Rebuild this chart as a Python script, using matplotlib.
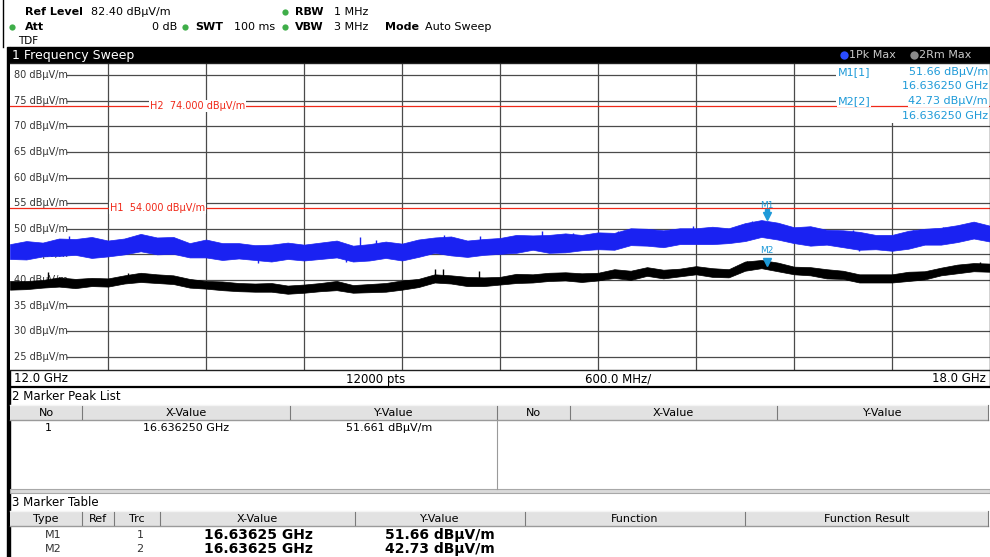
import matplotlib
matplotlib.use('Agg')
import matplotlib.pyplot as plt
from matplotlib.patches import Rectangle
from matplotlib.transforms import offset_copy

W, H = 990, 557

# sweep samples (GHz)
freq_ghz = [12.0, 12.1, 12.2, 12.3, 12.4, 12.5, 12.6, 12.7, 12.8, 12.9,
            13.0, 13.1, 13.2, 13.3, 13.4, 13.5, 13.6, 13.7, 13.8, 13.9,
            14.0, 14.1, 14.2, 14.3, 14.4, 14.5, 14.6, 14.7, 14.8, 14.9,
            15.0, 15.1, 15.2, 15.3, 15.4, 15.5, 15.6, 15.7, 15.8, 15.9,
            16.0, 16.1, 16.2, 16.3, 16.4, 16.5, 16.6, 16.7, 16.8, 16.9,
            17.0, 17.1, 17.2, 17.3, 17.4, 17.5, 17.6, 17.7, 17.8, 17.9, 18.0]

# trace 1 (1Pk Max) upper / lower edge of the noise band, dBuV/m
pk_top = [47.0, 47.6, 47.3, 48.1, 48.0, 48.4, 47.7, 48.1, 49.0, 48.3,
          48.4, 47.2, 47.9, 47.2, 47.2, 46.8, 46.9, 47.3, 46.9, 47.3,
          47.7, 46.7, 47.0, 47.5, 47.1, 47.9, 48.3, 48.5, 47.7, 48.0,
          48.2, 48.8, 48.7, 48.8, 49.1, 48.8, 49.3, 49.2, 50.1, 50.0,
          49.7, 50.1, 50.1, 50.4, 50.1, 51.1, 51.7, 51.2, 50.3, 50.5,
          49.8, 49.7, 49.4, 48.8, 48.8, 49.6, 50.0, 50.2, 50.7, 51.4, 50.6]
pk_bot = [44.1, 44.0, 44.6, 44.7, 44.9, 44.3, 44.6, 45.0, 45.6, 45.0,
          45.1, 44.4, 44.4, 43.9, 44.2, 43.9, 43.6, 44.1, 43.8, 44.1,
          44.4, 43.6, 43.8, 44.3, 43.8, 44.5, 45.3, 44.8, 44.5, 44.9,
          45.1, 45.3, 45.9, 45.3, 45.4, 45.8, 46.0, 45.9, 46.8, 46.7,
          46.4, 47.0, 47.0, 47.0, 47.2, 47.6, 48.4, 47.9, 47.2, 46.7,
          46.9, 46.4, 45.9, 46.0, 45.7, 46.1, 46.9, 46.9, 47.4, 48.1, 47.5]

# trace 2 (2Rm Max)
rm_top = [39.8, 39.8, 40.0, 40.5, 40.2, 40.4, 40.3, 40.9, 41.4, 41.1,
          40.9, 40.2, 39.8, 39.7, 39.4, 39.3, 39.4, 38.9, 39.1, 39.4,
          39.8, 39.0, 39.2, 39.4, 39.9, 40.2, 41.1, 40.9, 40.6, 40.5,
          40.6, 41.2, 41.1, 41.4, 41.5, 41.3, 41.4, 42.1, 41.8, 42.5,
          42.0, 42.2, 42.7, 42.3, 42.1, 43.6, 43.9, 43.4, 42.6, 42.5,
          42.1, 41.8, 41.1, 41.1, 41.1, 41.6, 41.7, 42.4, 43.0, 43.3, 43.2]
rm_bot = [38.1, 38.2, 38.5, 38.7, 38.4, 38.8, 38.7, 39.3, 39.6, 39.4,
          39.2, 38.5, 38.3, 38.0, 37.8, 37.7, 37.7, 37.3, 37.5, 37.8,
          38.0, 37.5, 37.6, 37.7, 38.1, 38.6, 39.5, 39.3, 38.8, 38.8,
          39.1, 39.4, 39.5, 39.8, 39.9, 39.6, 39.9, 40.4, 40.0, 40.8,
          40.3, 40.7, 41.1, 40.6, 40.5, 41.8, 42.3, 41.7, 41.1, 40.9,
          40.3, 40.2, 39.5, 39.5, 39.5, 39.8, 40.1, 40.9, 41.3, 41.7, 41.6]

# single noise spikes that stand out of the bands (GHz, dBuV/m)
pk_spike_f = [12.18, 12.36, 12.78, 12.94, 13.05, 13.9, 14.14, 14.24, 14.66, 14.88,
              15.26, 15.45, 15.72, 15.88, 16.18, 16.54, 16.70, 17.16, 17.53, 17.71, 17.93,
              13.52, 14.06, 17.20, 17.37]
pk_spike_v = [47.0, 48.5, 48.4, 47.8, 46.8, 46.8, 48.3, 47.8, 48.7, 48.5,
              49.5, 49.2, 49.6, 50.0, 50.6, 51.6, 50.8, 49.7, 49.7, 50.3, 51.0,
              43.4, 43.6, 45.6, 45.9]
rm_spike_f = [12.23, 12.72, 14.60, 14.65, 14.87, 16.51, 17.94]
rm_spike_v = [41.6, 41.4, 42.2, 42.1, 41.8, 43.8, 43.5]

y_ticks = [80, 75, 70, 65, 60, 55, 50, 45, 40, 35, 30, 25]
x_grid = [12.6, 13.2, 13.8, 14.4, 15.0, 15.6, 16.2, 16.8, 17.4]

limit_lines = [('H1', 54.0), ('H2', 74.0)]
markers = [('M1', 16.63625, 51.66), ('M2', 16.63625, 42.73)]

BLUE = '#1a22f2'
MARKER_BLUE = '#1e9ad8'
RED = '#f02818'
GREEN = '#3fae49'
GRID = '#4a4a4a'

plt.rcParams['font.family'] = 'DejaVu Sans'

fig = plt.figure(figsize=(W / 100, H / 100), dpi=100)
fig.patch.set_facecolor('white')

# pixel canvas for the instrument chrome
bg = fig.add_axes((0, 0, 1, 1), zorder=0)
bg.set_xlim(0, W)
bg.set_ylim(H, 0)
bg.axis('off')


def txt(x, y, s, size=8, ha='left', weight='normal', color='black'):
    bg.text(x, y, s, fontsize=size, ha=ha, va='center', weight=weight, color=color)


def dot(x, y, color=GREEN, ms=4.5):
    bg.plot(x, y, 'o', color=color, ms=ms, mec='none')


# header
bg.plot([3, 3], [0, 47], color='black', lw=1)
txt(25, 12, 'Ref Level', weight='bold')
txt(91, 12, '82.40 dB\u00b5V/m')
dot(285, 12)
txt(295, 12, 'RBW', weight='bold')
txt(334, 12, '1 MHz')
dot(12, 27)
txt(25, 27, 'Att', weight='bold')
txt(177, 27, '0 dB', ha='right')
dot(185, 27)
txt(195, 27, 'SWT', weight='bold')
txt(234, 27, '100 ms')
dot(285, 27)
txt(295, 27, 'VBW', weight='bold')
txt(334, 27, '3 MHz')
txt(385, 27, 'Mode', weight='bold')
txt(425, 27, 'Auto Sweep')
txt(18, 41, 'TDF', size=7.5)

# title bar
bg.add_patch(Rectangle((10, 47), 980, 16, color='black'))
txt(12, 55, '1 Frequency Sweep', size=9, color='white')
dot(844, 55, '#2a4cff', 6)
txt(849, 55, '1Pk Max', color='#c8c8c8')
dot(914, 55, '#8a8a8a', 6)
txt(919, 55, '2Rm Max', color='#c8c8c8')

# left border of the screen
bg.add_patch(Rectangle((7, 47), 3, H - 47, color='black'))

# frequency bar under the diagram
bg.plot([10, 990], [386.5, 386.5], color='black', lw=1.6)
bg.plot([989.5, 989.5], [370, 387], color='black', lw=1)
txt(14, 379, '12.0 GHz', size=8.5)
txt(376, 379, '12000 pts', size=8.5, ha='center')
txt(618, 379, '600.0 MHz/', size=8.5, ha='center')
txt(986, 379, '18.0 GHz', size=8.5, ha='right')


def header_row(y, cols, labels):
    bg.add_patch(Rectangle((10, y), 978, 15, facecolor='#e2e2e2', edgecolor='none'))
    bg.plot([10, 988], [y + 15, y + 15], color='#9a9a9a', lw=1)
    bg.plot([10, 988], [y, y], color='#f4f4f4', lw=1)
    for cx in cols[1:-1]:
        bg.plot([cx, cx], [y + 1, y + 14], color='#7a7a7a', lw=0.8)
    bg.plot([988, 988], [y, y + 15], color='#7a7a7a', lw=0.8)
    for (a, b), lab in zip(zip(cols[:-1], cols[1:]), labels):
        txt((a + b) / 2, y + 8, lab, ha='center')


# 2 marker peak list
txt(12, 397, '2 Marker Peak List', size=8.5)
peak_cols = [10, 82, 290, 497, 570, 777, 988]
header_row(405, peak_cols, ['No', 'X-Value', 'Y-Value', 'No', 'X-Value', 'Y-Value'])
bg.plot([497, 497], [420, 489], color='#9a9a9a', lw=0.8)
txt(45, 428, '1')
txt(186, 428, '16.636250 GHz', ha='center')
txt(389, 428, '51.661 dB\u00b5V/m', ha='center')
bg.add_patch(Rectangle((10, 489), 980, 4, facecolor='#dadada', edgecolor='#a8a8a8', lw=0.8))

# 3 marker table
txt(12, 503, '3 Marker Table', size=8.5)
tab_cols = [10, 82, 114, 160, 355, 525, 745, 988]
header_row(511, tab_cols, ['Type', 'Ref', 'Trc', 'X-Value', 'Y-Value', 'Function', 'Function Result'])
for i, (name, f, lvl) in enumerate(markers):
    yy = 535 + 14 * i
    txt(45, yy, name, color='#333333')
    txt(140, yy, str(i + 1), ha='center', color='#333333')
    txt(258, yy, f'{f:.5f} GHz', size=10, ha='center', weight='bold')
    txt(440, yy, f'{lvl:.2f} dB\u00b5V/m', size=10, ha='center', weight='bold')

# diagram
ax = fig.add_axes((10 / W, 1 - 370 / H, 980 / W, 307 / H), zorder=1)
ax.set_facecolor('white')
ax.set_xlim(12.0, 18.0)
ax.set_ylim(22.4, 82.4)
ax.set_xticks([])
ax.set_yticks([])
for side in ('top', 'bottom', 'right'):
    ax.spines[side].set_color('#202020')
    ax.spines[side].set_linewidth(1)
ax.spines['left'].set_visible(False)

for gx in x_grid:
    ax.axvline(gx, color=GRID, lw=0.9, zorder=1)
for gy in y_ticks:
    ax.axhline(gy, xmin=57 / 980, xmax=1, color=GRID, lw=0.9, zorder=1)
    ax.text(0.004, gy, f'{gy} dB\u00b5V/m', transform=ax.get_yaxis_transform(),
            fontsize=7, va='center', ha='left', color='#333333', zorder=1.5)

# white area behind the marker readout
ax.add_patch(Rectangle((826 / 980, (370 - 123) / 307), 154 / 980, 60 / 307,
                       transform=ax.transAxes, facecolor='white', edgecolor='none', zorder=2))

label_x = {'H1': 100 / 980, 'H2': 140 / 980}
for name, lvl in limit_lines:
    ax.axhline(lvl, color=RED, lw=0.9, zorder=2.5)
    ax.text(label_x[name], lvl, f'{name}  {lvl:.3f} dB\u00b5V/m', transform=ax.get_yaxis_transform(),
            fontsize=7, color=RED, va='center', ha='left', zorder=4,
            bbox=dict(facecolor='white', edgecolor='none', pad=0.6))

# traces: noise band plus the single spikes
for f_top, f_bot, sf, sv, col in ((rm_top, rm_bot, rm_spike_f, rm_spike_v, 'black'),
                                  (pk_top, pk_bot, pk_spike_f, pk_spike_v, BLUE)):
    ax.fill_between(freq_ghz, f_bot, f_top, facecolor=col, edgecolor=col, lw=0.5, zorder=3)
    base = []
    for f in sf:
        k = min(range(len(freq_ghz)), key=lambda j: abs(freq_ghz[j] - f))
        base.append((f_top[k] + f_bot[k]) / 2)
    ax.vlines(sf, base, sv, color=col, lw=1.0, zorder=3)

# markers (M1 is the active one: triangle with a stem)
tri = offset_copy(ax.transData, fig=fig, y=4, units='dots')
stem = offset_copy(ax.transData, fig=fig, y=9, units='dots')
lab = offset_copy(ax.transData, fig=fig, y=15, units='dots')
for i, (name, f, lvl) in enumerate(markers):
    ax.plot(f, lvl, marker='v', color=MARKER_BLUE, ms=6, transform=tri, zorder=5, clip_on=False)
    if i == 0:
        ax.plot(f, lvl, marker='s', color=MARKER_BLUE, ms=3.5, transform=stem, zorder=5)
    ax.text(f, lvl, name, transform=lab, color=MARKER_BLUE, fontsize=6.5,
            ha='center', va='center', zorder=5)

# marker readout (top right)
readout_y = [(72, 86), (101, 116)]
tb = dict(facecolor='white', edgecolor='none', pad=0.5)
for (name, f, lvl), (y1, y2), tr in zip(markers, readout_y, (1, 2)):
    fig.text(838 / W, 1 - y1 / H, f'{name}[{tr}]', fontsize=8, color=MARKER_BLUE,
             va='center', zorder=6, bbox=tb)
    fig.text(988 / W, 1 - y1 / H, f'{lvl:.2f} dB\u00b5V/m', fontsize=8, color=MARKER_BLUE,
             va='center', ha='right', zorder=6, bbox=tb)
    fig.text(988 / W, 1 - y2 / H, f'{f:.6f} GHz', fontsize=8, color=MARKER_BLUE,
             va='center', ha='right', zorder=6, bbox=tb)

fig.savefig('out.png', dpi=100, facecolor='white')
